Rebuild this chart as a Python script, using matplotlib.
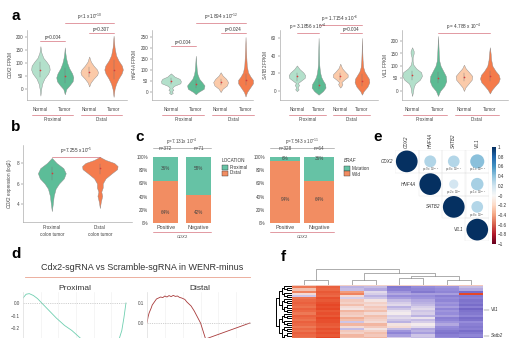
import numpy as np
import matplotlib
matplotlib.use("Agg")
import matplotlib.pyplot as plt
from matplotlib import transforms
from matplotlib.patches import Rectangle
from matplotlib.colors import LinearSegmentedColormap, Normalize
from matplotlib.cm import ScalarMappable

plt.rcParams["font.family"] = ["Liberation Sans", "DejaVu Sans"]
plt.rcParams["mathtext.fontset"] = "custom"
plt.rcParams["mathtext.rm"] = "Liberation Sans"
plt.rcParams["mathtext.it"] = "Liberation Sans:italic"
plt.rcParams["axes.linewidth"] = 0.4

# ---------------- a: marker expression by site ----------------
a_genes = ["CDX2", "HNF4A", "SATB2", "VIL1"]
a_groups = ["Normal", "Tumor", "Normal", "Tumor"]
a_sites = ["Proximal", "Distal"]
a_colors = ["#b3e0cb", "#5cbb93", "#fbcaa9", "#f47b4b"]

# violin outlines: FPKM level and density half-width, order NP, TP, ND, TD
cdx2_levels = [[-25, 0, 20, 40, 60, 75, 90, 105, 120, 140, 165],
               [-20, 0, 15, 30, 45, 60, 80, 100, 120, 140, 160],
               [10, 25, 40, 55, 65, 75, 90, 105, 125],
               [-30, 0, 20, 40, 60, 75, 90, 110, 130, 160, 205]]
cdx2_widths = [[0, 0.03, 0.07, 0.16, 0.32, 0.38, 0.36, 0.25, 0.12, 0.04, 0],
               [0, 0.06, 0.2, 0.32, 0.35, 0.3, 0.18, 0.1, 0.05, 0.02, 0],
               [0, 0.06, 0.18, 0.33, 0.36, 0.32, 0.18, 0.07, 0],
               [0, 0.04, 0.1, 0.2, 0.33, 0.38, 0.34, 0.2, 0.1, 0.04, 0]]
cdx2_medians = [75, 50, 65, 72]
cdx2_iqr = [[45, 105], [25, 80], [45, 85], [40, 110]]

hnf4a_levels = [[-10, -3, 3, 10, 18, 28, 40, 50, 60, 70, 85],
                [-10, 0, 15, 30, 45, 60, 80, 100, 130, 165],
                [0, 15, 30, 45, 60, 75, 90],
                [-20, 0, 20, 40, 55, 70, 90, 120, 160, 200, 250]]
hnf4a_widths = [[0, 0.08, 0.03, 0.1, 0.05, 0.12, 0.38, 0.4, 0.35, 0.15, 0],
                [0, 0.1, 0.32, 0.35, 0.25, 0.14, 0.07, 0.04, 0.02, 0],
                [0, 0.08, 0.25, 0.3, 0.22, 0.08, 0],
                [0, 0.06, 0.18, 0.3, 0.3, 0.2, 0.1, 0.05, 0.03, 0.015, 0]]
hnf4a_medians = [50, 35, 45, 55]
hnf4a_iqr = [[35, 62], [20, 55], [30, 60], [30, 80]]

satb2_levels = [[0, 2, 4, 7, 9, 12, 15, 18, 21, 25, 29],
                [-4, 0, 4, 8, 12, 16, 20, 25, 30, 40, 50, 60],
                [4, 6, 8, 10, 13, 16, 19, 22, 26, 31],
                [-4, 0, 5, 10, 14, 18, 22, 27, 35, 45, 60]]
satb2_widths = [[0, 0.08, 0.03, 0.1, 0.04, 0.2, 0.36, 0.38, 0.3, 0.12, 0],
                [0, 0.2, 0.32, 0.3, 0.2, 0.12, 0.08, 0.05, 0.03, 0.02, 0.01, 0],
                [0, 0.06, 0.1, 0.05, 0.18, 0.34, 0.34, 0.22, 0.08, 0],
                [0, 0.08, 0.25, 0.34, 0.32, 0.22, 0.12, 0.06, 0.03, 0.015, 0]]
satb2_medians = [17, 7, 17, 12]
satb2_iqr = [[12, 21], [2, 14], [13, 21], [6, 19]]

vil1_levels = [[-20, 0, 15, 30, 45, 60, 75, 90, 105, 120, 135, 150, 160, 175],
               [-20, 0, 20, 40, 60, 80, 100, 120, 150, 185, 220],
               [0, 15, 30, 45, 60, 75, 90, 105],
               [-10, 5, 20, 35, 50, 65, 80, 100, 125, 150, 175]]
vil1_widths = [[0, 0.04, 0.06, 0.12, 0.3, 0.38, 0.35, 0.16, 0.05, 0.02, 0.02, 0.06, 0.06, 0],
               [0, 0.08, 0.24, 0.32, 0.3, 0.2, 0.1, 0.05, 0.03, 0.015, 0],
               [0, 0.06, 0.18, 0.3, 0.32, 0.2, 0.07, 0],
               [0, 0.08, 0.2, 0.33, 0.38, 0.34, 0.22, 0.1, 0.05, 0.03, 0]]
vil1_medians = [65, 50, 55, 60]
vil1_iqr = [[45, 80], [30, 75], [40, 70], [40, 80]]

a_levels = [cdx2_levels, hnf4a_levels, satb2_levels, vil1_levels]
a_widths = [cdx2_widths, hnf4a_widths, satb2_widths, vil1_widths]
a_medians = [cdx2_medians, hnf4a_medians, satb2_medians, vil1_medians]
a_iqr = [cdx2_iqr, hnf4a_iqr, satb2_iqr, vil1_iqr]
a_yticks = [[0, 50, 100, 150, 200], [0, 50, 100, 150, 200, 250],
            [0, 20, 40, 60], [0, 50, 100, 150, 200]]
a_pvals = [["p=0.004", "p=0.307", r"p<1 x 10$^{-10}$"],
           ["p=0.004", "p=0.024", r"p=1.894 x 10$^{-12}$"],
           [r"p = 3.1856 x 10$^{-4}$", "p=0.004", r"p = 1.7154 x 10$^{-6}$"],
           [r"p = 4.788 x 10$^{-4}$"]]

# ---------------- b: CDX2 in proximal vs distal tumours ----------------
b_labels = ["Proximal\ncolon tumor", "Distal\ncolon tumor"]
b_levels = [[3.3, 4.0, 4.8, 5.5, 6.0, 6.5, 7.0, 7.5, 8.0, 8.5],
            [3.6, 4.2, 4.8, 5.2, 5.6, 6.0, 6.5, 7.0, 7.4, 7.7, 8.0, 8.3, 8.6]]
b_widths = [[0, 0.02, 0.04, 0.08, 0.15, 0.25, 0.29, 0.24, 0.1, 0],
            [0, 0.02, 0.05, 0.03, 0.06, 0.06, 0.12, 0.25, 0.36, 0.37, 0.3, 0.12, 0]]
b_medians = [7.0, 7.5]
b_iqr = [[6.3, 7.6], [6.9, 7.9]]
b_pval = r"p=7.255 x 10$^{-5}$"

# ---------------- c: location / BRAF by CDX2 status ----------------
c_groups = ["Positive", "Negative"]
loc_proximal = [36, 58]
loc_distal = [64, 42]
loc_n = [372, 71]
loc_pval = r"p=7.131x 10$^{-4}$"
braf_mutation = [6, 36]
braf_wild = [94, 64]
braf_n = [328, 64]
braf_pval = r"p=7.543 x 10$^{-11}$"

# ---------------- d: running enrichment score ----------------
prox_rank = [0, 3, 6, 10, 14, 18, 25, 32, 40, 47, 55, 65, 75, 85, 92, 95, 97, 99]
prox_es = [0.04, 0.07, 0.075, 0.06, 0.035, 0.0, -0.06, -0.12, -0.18, -0.22,
           -0.28, -0.34, -0.38, -0.36, -0.3, -0.22, -0.12, 0.0]
dist_rank = [0, 1, 2, 4, 5, 7, 9, 11, 13, 15, 17, 19, 21, 23, 25, 27, 29, 31,
             33, 36, 38, 42, 45, 48, 51, 54, 57, 60, 65, 72, 80, 88, 94, 97, 98]
dist_es = [0.0, 0.03, 0.05, 0.075, 0.09, 0.105, 0.12, 0.125, 0.13, 0.127, 0.135,
           0.13, 0.137, 0.132, 0.138, 0.133, 0.135, 0.128, 0.125, 0.118, 0.105,
           0.085, 0.06, 0.03, 0.0, -0.05, -0.1, -0.13, -0.17, -0.22, -0.25,
           -0.22, -0.15, -0.08, 0.0]

# ---------------- e: marker correlation ----------------
e_genes = ["CDX2", "HNF4A", "SATB2", "VIL1"]
e_corr = [[1.0, 0.30, 0.29, 0.42],
          [0.30, 1.0, 0.18, 0.33],
          [0.29, 0.18, 1.0, 0.29],
          [0.42, 0.33, 0.29, 1.0]]
e_pvals = [["", r"p=9 x 10$^{-13}$", r"p=8 x 10$^{-11}$", r"p=1 x 10$^{-15}$"],
           ["", "", r"p=2 x 10$^{-7}$", r"p=1 x 10$^{-11}$"],
           ["", "", "", r"p=8 x 10$^{-7}$"],
           ["", "", "", ""]]

# ---------------- f: clustered heatmap ----------------
heat_values = [
    [0.3, 0.4, 0.3, 0.3, 0.3, 0.3, 0.3, 0.4],
    [1.3, 1.6, -0.6, -0.5, -1.3, -1.0, -0.9, -0.5],
    [0.5, 1.5, -0.5, -0.7, -1.2, -1.1, -1.0, -0.7],
    [1.2, 1.7, 0.9, -0.2, -0.9, -1.3, -1.1, -1.5],
    [0.2, 1.6, 1.2, -0.3, -0.7, -0.8, -0.8, 1.9],
    [-0.4, 1.5, 0.2, -0.6, -1.0, -1.0, -1.2, -1.3],
    [1.4, 1.8, -0.3, -0.4, -0.8, -0.9, -1.0, -1.2],
    [1.5, 1.7, 0.4, 0.1, -0.5, -0.7, -1.1, -1.4],
    [1.6, 1.8, 0.3, 0.3, -0.3, -0.6, -0.9, -1.3],
    [1.5, 1.9, 0.5, 0.2, -0.2, -0.5, -1.0, -1.5],
    [1.4, 1.8, 0.2, 0.4, -0.6, -0.3, -0.8, -1.2],
    [1.6, 1.9, 0.1, 0.3, -0.4, -0.2, -1.1, -1.6],
    [1.5, 1.7, 0.6, 0.5, -0.1, -0.4, -0.9, -1.4],
    [1.3, 1.8, 0.4, 0.2, 0.0, -0.3, -1.0, -1.3],
    [1.6, 1.7, 0.3, 0.5, -0.3, -0.6, -0.8, -1.1],
    [1.5, 1.9, 0.7, 0.4, -0.2, -0.1, -1.2, -1.5],
    [1.4, 1.8, 0.5, 0.3, -0.4, -0.5, -1.1, -1.4],
    [1.6, 1.8, -0.4, 0.2, -0.6, -0.3, -0.9, -1.0],
    [1.5, 1.7, 0.6, 0.6, 0.1, 0.0, -0.7, -1.2],
    [1.3, 1.6, 0.2, 0.4, 0.2, -0.2, -1.0, -1.3],
    [1.5, 1.8, -0.5, 0.1, -0.5, -0.7, -1.1, -1.2],
    [1.4, 1.7, 0.4, 0.3, -0.9, -0.6, -1.3, -1.5],
    [1.6, 1.8, 0.3, 0.5, -1.1, -0.8, -1.4, -1.3],
    [1.5, 1.7, 0.6, 0.4, -0.8, -0.4, -1.2, -1.1],
    [1.4, 1.9, 0.5, 0.6, -0.3, -0.5, -1.0, -1.4],
    [1.5, 1.8, 0.2, 0.3, -0.6, -0.7, -1.1, -1.2],
]
heat_marked = {"Vil1": 11, "Satb2": 23}
# column merges (left id, right id, height); new cluster ids start at 8
col_links = [(0, 1, 0.32), (2, 3, 0.32), (4, 5, 0.42), (6, 7, 0.30),
             (10, 11, 0.58), (9, 12, 0.72), (8, 13, 0.97)]
row_link_heights = [1.0, 0.8, 0.62, 0.48, 0.35, 0.22, 0.1]

# ---------------- layout helpers (pixel boxes) ----------------
W, H = 517, 338
fig = plt.figure(figsize=(W / 100, H / 100), dpi=100)
TXT = 3.3
RED = "#cc4e5c"


def box(x0, y0, x1, y1):
    return [x0 / W, 1 - y1 / H, (x1 - x0) / W, (y1 - y0) / H]


def fy(py):
    return 1 - py / H


def xfig(ax):
    return transforms.blended_transform_factory(ax.transData, fig.transFigure)


def minus(v, fmt="{:.1f}"):
    return fmt.format(v).replace("-", "\u2212")


def violin(ax, x, levels, widths, color, med, iqr):
    lv = np.asarray(levels, float)
    wd = np.asarray(widths, float)
    ax.fill_betweenx(lv, x - wd, x + wd, facecolor=color, edgecolor="#8a8a8a", lw=0.3)
    ax.plot([x, x], iqr, color="#777777", lw=0.3)
    ax.plot(x, med, "o", ms=1.2, color="#d63a3a", mec="none")


def bracket(ax, x0, x1, py, label):
    tr = xfig(ax)
    ax.plot([x0, x1], [fy(py), fy(py)], color=RED, lw=0.4, transform=tr, clip_on=False)
    ax.text((x0 + x1) / 2, fy(py - 1), label, transform=tr, ha="center", va="bottom",
            fontsize=TXT, color="#333333")


for lbl, (px, py) in zip("abcdef", [(16, 16), (16, 127), (140, 137),
                                    (16, 254), (378, 137), (283, 257)]):
    fig.text(px / W, fy(py), lbl, fontsize=11, fontweight="bold", ha="center", va="center")

# ---------------- panel a ----------------
a_boxes = [(27, 30, 127, 100), (152, 30, 253, 100), (280, 30, 378, 100), (402, 30, 508, 100)]
a_ylims = [(-42, 227), (-36, 282), (-10, 69), (-36, 244)]
a_xlims = [(-0.55, 3.55), (-0.76, 3.3), (-0.78, 3.74), (-0.39, 3.7)]
a_brackets = [[(0, 1, 41), (2, 3, 33), (1, 3, 23)],
              [(0, 1, 46), (2, 3, 33), (1, 3, 23)],
              [(0, 1, 33), (2, 3, 33), (1, 3, 25)],
              [(1, 3, 33)]]
for g, gene in enumerate(a_genes):
    ax = fig.add_axes(box(*a_boxes[g]))
    for i in range(4):
        violin(ax, i, a_levels[g][i], a_widths[g][i], a_colors[i],
               a_medians[g][i], a_iqr[g][i])
    ax.set_xlim(*a_xlims[g])
    ax.set_ylim(*a_ylims[g])
    ax.set_yticks(a_yticks[g])
    ax.set_xticks(range(4))
    ax.set_xticklabels(a_groups)
    ax.tick_params(labelsize=TXT, length=1.2, width=0.3, pad=1.5, colors="#444444")
    ax.tick_params(axis="x", length=0, pad=5)
    ax.set_ylabel(r"$\it{%s}$ FPKM" % gene, fontsize=TXT, labelpad=1.5, color="#444444")
    for s in ["top", "right"]:
        ax.spines[s].set_visible(False)
    for s in ["left", "bottom"]:
        ax.spines[s].set_color("#999999")
    for (x0, x1, py), lab in zip(a_brackets[g], a_pvals[g]):
        bracket(ax, x0, x1, py, lab)
    tr = xfig(ax)
    for k, site in enumerate(a_sites):
        c = 2 * k + 0.5
        ax.plot([c - 0.85, c + 0.85], [fy(115), fy(115)], color=RED, lw=0.4,
                transform=tr, clip_on=False)
        ax.text(c, fy(119.5), site, transform=tr, ha="center", va="center",
                fontsize=TXT, color="#444444")

# ---------------- panel b ----------------
ax = fig.add_axes(box(23, 145, 132, 222))
for i, col in enumerate(["#5cbd98", "#f47c4e"]):
    violin(ax, i, b_levels[i], b_widths[i], col, b_medians[i], b_iqr[i])
ax.set_xlim(-0.6, 1.67)
ax.set_ylim(2.24, 9.76)
ax.set_yticks([4, 6, 8])
ax.set_xticks([0, 1])
ax.set_xticklabels(b_labels, linespacing=1.3)
ax.tick_params(labelsize=TXT, length=1.2, width=0.3, pad=1.5, colors="#444444")
ax.tick_params(axis="x", length=0, pad=2.5)
ax.set_ylabel(r"$\it{CDX2}$ expression (log2)", fontsize=TXT, labelpad=2, color="#444444")
for s in ["top", "right"]:
    ax.spines[s].set_visible(False)
for s in ["left", "bottom"]:
    ax.spines[s].set_color("#999999")
bracket(ax, 0, 1, 157, b_pval)

# ---------------- panel c ----------------
GREEN, ORANGE = "#66c2a5", "#f28d62"


def stacked(bx, top_vals, bottom_vals, counts, pval, label_y, width, legend):
    ax = fig.add_axes(box(*bx))
    xs = np.arange(len(c_groups))
    ax.bar(xs, bottom_vals, width=width, color=ORANGE)
    ax.bar(xs, top_vals, width=width, bottom=bottom_vals, color=GREEN)
    for x, t, b in zip(xs, top_vals, bottom_vals):
        ax.text(x, label_y[0], f"{t}%", ha="center", va="center", fontsize=TXT, color="#444444")
        ax.text(x, label_y[1], f"{b}%", ha="center", va="center", fontsize=TXT, color="#444444")
    ax.set_ylim(0, 100)
    ax.set_yticks(range(0, 101, 20))
    ax.set_yticklabels([f"{v}%" for v in range(0, 101, 20)])
    ax.set_xticks(xs)
    ax.set_xticklabels(c_groups)
    ax.tick_params(labelsize=TXT, length=0, pad=1.5, colors="#444444")
    ax.tick_params(axis="x", labelsize=TXT + 0.6, pad=1.5)
    for s in ax.spines.values():
        s.set_visible(False)
    tr = xfig(ax)
    for x, n in zip(xs, counts):
        ax.text(x, fy(151), f"n={n}", transform=tr, ha="center", va="bottom",
                fontsize=TXT, color="#444444")
    lo, hi = xs[0] - width / 2, xs[-1] + width / 2
    ax.plot([lo, hi], [fy(148), fy(148)], color="#888888", lw=0.4, transform=tr, clip_on=False)
    ax.text((lo + hi) / 2, fy(147), pval, transform=tr, ha="center", va="bottom",
            fontsize=TXT, color="#444444")
    ax.plot([lo, hi], [fy(232), fy(232)], color=RED, lw=0.4, transform=tr, clip_on=False)
    ax.text((lo + hi) / 2, fy(236), r"$\it{CDX2}$", transform=tr, ha="center", va="center",
            fontsize=TXT - 0.3, color="#444444")
    # legend
    lx, ly, title, names, italic = legend
    fig.text(lx / W, fy(ly), title, fontsize=TXT, ha="left", va="center",
             style="italic" if italic else "normal", color="#333333")
    for k, (name, col) in enumerate(zip(names, [GREEN, ORANGE])):
        y0 = ly + 5 + 5.5 * k
        fig.patches.append(Rectangle((lx / W, fy(y0 + 5)), 6 / W, 5 / H, facecolor=col,
                                     edgecolor="#333333", lw=0.3, transform=fig.transFigure))
        fig.text((lx + 8) / W, fy(y0 + 2.5), name, fontsize=TXT, ha="left", va="center",
                 color="#333333")


stacked((150, 157, 214, 223), loc_proximal, loc_distal, loc_n, loc_pval, (82, 16), 0.77,
        (222, 160, "LOCATION", ["Proximal", "Distal"], False))
stacked((267, 157, 337, 223), braf_mutation, braf_wild, braf_n, braf_pval, (97, 35), 0.88,
        (344, 161, "BRAF", ["Mutation", "Wild"], True))

# ---------------- panel d ----------------
fig.text(142 / W, fy(268), "Cdx2-sgRNA vs Scramble-sgRNA in WENR-minus",
         fontsize=6.5, ha="center", va="center", color="#333333")
fig.lines.append(plt.Line2D([25 / W, 250 / W], [fy(277), fy(277)], color="#e9a28f",
                            lw=0.6, transform=fig.transFigure))
d_specs = [((23, 292, 127, 365), prox_rank, prox_es, "#6fcfb0", "Proximal",
            (-0.496, 0.088), [-0.2, -0.1, 0.0]),
           ((147, 292, 252, 365), dist_rank, dist_es, "#a83a3a", "Distal",
            (-0.21, 0.155), [0.0, 0.1])]
for bx, rk, es, col, title, ylim, yt in d_specs:
    ax = fig.add_axes(box(*bx))
    ax.plot(rk, es, color=col, lw=0.6)
    ax.plot([0, 99], [0, 0], ls=(0, (2, 2)), color="#aaaaaa", lw=0.4)
    ax.set_xlim(0, 100)
    ax.set_ylim(*ylim)
    ax.set_yticks(yt)
    ax.set_yticklabels([minus(v) for v in yt])
    ax.set_xticks(range(0, 101, 17))
    ax.set_xticklabels([])
    ax.grid(axis="x", color="#eeeeee", lw=0.4)
    ax.tick_params(labelsize=TXT, length=0, pad=2, colors="#444444")
    for s in ["top", "right", "bottom"]:
        ax.spines[s].set_visible(False)
    ax.spines["left"].set_color("#dddddd")
    ax.set_title(title, fontsize=6, color="#333333", pad=0.5)

# ---------------- panel e ----------------
ax = fig.add_axes(box(395, 150, 489, 241))
norm = Normalize(-1, 1)
cmap = plt.get_cmap("RdBu")
n = len(e_genes)
for i in range(n):
    for j in range(i, n):
        ax.add_patch(Rectangle((j - 0.5, i - 0.5), 1, 1, facecolor="none",
                               edgecolor="#e6e6e6", lw=0.3))
        r = e_corr[i][j]
        d = 21.7 * np.sqrt(abs(r)) * 0.72
        ax.scatter(j, i, s=d ** 2, color=cmap(norm(r)), edgecolors="none", zorder=3)
        if e_pvals[i][j]:
            ax.text(j, i + 0.38, e_pvals[i][j], fontsize=2.2, ha="center", va="center",
                    color="#555555")
    ax.text(i, -0.58, e_genes[i], rotation=90, fontsize=TXT, style="italic",
            ha="center", va="bottom", color="#333333")
    ax.text(i - 0.58, i, e_genes[i], fontsize=TXT, style="italic", ha="right",
            va="center", color="#333333")
ax.set_xlim(-0.5, 3.5)
ax.set_ylim(3.5, -0.5)
ax.axis("off")
cax = fig.add_axes(box(492, 147, 496, 244))
cb = fig.colorbar(ScalarMappable(norm=norm, cmap=cmap), cax=cax)
cb_ticks = np.round(np.arange(-1, 1.01, 0.2), 1)
cb.set_ticks(cb_ticks)
cb.set_ticklabels([minus(v, "{:g}") for v in cb_ticks])
cb.ax.tick_params(labelsize=TXT, length=0, pad=1.5, colors="#333333")
cb.outline.set_visible(False)

# ---------------- panel f ----------------
heat = np.array(heat_values)
nrow, ncol = heat.shape
hcmap = LinearSegmentedColormap.from_list(
    "purple_red", ["#5b4fb8", "#968cda", "#f4ecef", "#f2946f", "#e5401f"])
ax = fig.add_axes(box(292, 285, 483, 341))
ax.imshow(heat, cmap=hcmap, vmin=-2, vmax=2, aspect="auto", interpolation="nearest")
ax.axis("off")
for name, row in heat_marked.items():
    tr = transforms.blended_transform_factory(ax.transAxes, ax.transData)
    ax.plot([1.005, 1.03], [row, row], color="#555555", lw=0.3, transform=tr, clip_on=False)
    ax.text(1.04, row, name, transform=tr, fontsize=TXT, style="italic", va="center",
            ha="left", color="#333333")

# column dendrogram
dax = fig.add_axes(box(292, 268, 483, 285))
pos = {k: float(k) for k in range(ncol)}
hgt = {k: 0.0 for k in range(ncol)}
for idx, (a, b, h) in enumerate(col_links):
    dax.plot([pos[a], pos[a], pos[b], pos[b]], [hgt[a], h, h, hgt[b]],
             color="#8c8c8c", lw=0.5)
    new = ncol + idx
    pos[new] = (pos[a] + pos[b]) / 2
    hgt[new] = h
dax.set_xlim(-0.5, ncol - 0.5)
dax.set_ylim(0, 1.05)
dax.axis("off")

# row dendrogram, built by halving the row range
rax = fig.add_axes(box(276, 285, 292, 341))


def split(lo, hi, depth):
    if hi - lo == 1:
        return float(lo), 0.0
    mid = (lo + hi) // 2
    ya, ha = split(lo, mid, depth + 1)
    yb, hb = split(mid, hi, depth + 1)
    h = row_link_heights[min(depth, len(row_link_heights) - 1)]
    rax.plot([ha, h, h, hb], [ya, ya, yb, yb], color="black", lw=0.7)
    return (ya + yb) / 2, h


split(0, nrow, 0)
rax.set_xlim(1.02, 0)
rax.set_ylim(nrow - 0.5, -0.5)
rax.axis("off")

fig.savefig("out.png", dpi=100)
